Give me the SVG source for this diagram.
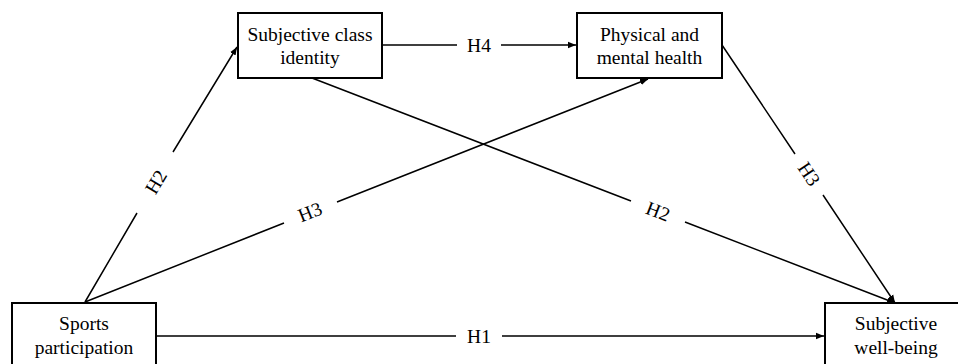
<svg xmlns="http://www.w3.org/2000/svg" width="958" height="364" viewBox="0 0 958 364" font-family="'Liberation Serif', 'Times New Roman', serif">
<style>
.box{fill:#fff;stroke:#000;stroke-width:2}
.t{font-size:19.5px;fill:#000;text-anchor:middle}
.lbl{font-size:19.5px;fill:#000;text-anchor:middle;dominant-baseline:central}
.c{fill:none;stroke:#000;stroke-width:1.5}
</style>
<defs>
<marker id="ah" viewBox="0 0 10 10" refX="10" refY="5" markerWidth="8" markerHeight="8" markerUnits="userSpaceOnUse" orient="auto">
<path d="M0,1 L10,5 L0,9 z" fill="#000"/>
</marker>
</defs>
<rect width="958" height="364" fill="#fff"/>
<g id="connectors">
<path class="c" d="M85,302 L137,213 M173,152 L237,47" marker-end="url(#ah)"/>
<path class="c" d="M85,302 L284,223 M337,202 L648,79" marker-end="url(#ah)"/>
<path class="c" d="M382,45 L457,45 M501,45 L576,45" marker-end="url(#ah)"/>
<path class="c" d="M156,336 L456,336 M502,336 L824,336" marker-end="url(#ah)"/>
<path class="c" d="M312,78 L631,201 M685,222 L895,303" marker-end="url(#ah)"/>
<path class="c" d="M722,45 L795,154 M823,195 L895,303" marker-end="url(#ah)"/>
<text class="lbl" transform="translate(156,182) rotate(-59)">H2</text>
<text class="lbl" transform="translate(310,212) rotate(-21.7)">H3</text>
<text class="lbl" x="479" y="45">H4</text>
<text class="lbl" x="479" y="336">H1</text>
<text class="lbl" transform="translate(658,211.5) rotate(21.1)">H2</text>
<text class="lbl" transform="translate(809,174) rotate(56.2)">H3</text>
</g>
<g id="sci">
<rect class="box" x="238" y="13" width="144" height="65"/>
<text class="t" x="310" y="40.5">Subjective class</text>
<text class="t" x="310" y="63.5">identity</text>
</g>
<g id="pmh">
<rect class="box" x="577" y="13" width="145" height="65"/>
<text class="t" x="649.5" y="40.5">Physical and</text>
<text class="t" x="649.5" y="63.5">mental health</text>
</g>
<g id="sports">
<rect class="box" x="12" y="303" width="144" height="66"/>
<text class="t" x="84" y="330">Sports</text>
<text class="t" x="84" y="354">participation</text>
</g>
<g id="swb">
<rect class="box" x="825" y="303" width="143" height="66"/>
<text class="t" x="896" y="330">Subjective</text>
<text class="t" x="896" y="354">well-being</text>
</g>
</svg>
